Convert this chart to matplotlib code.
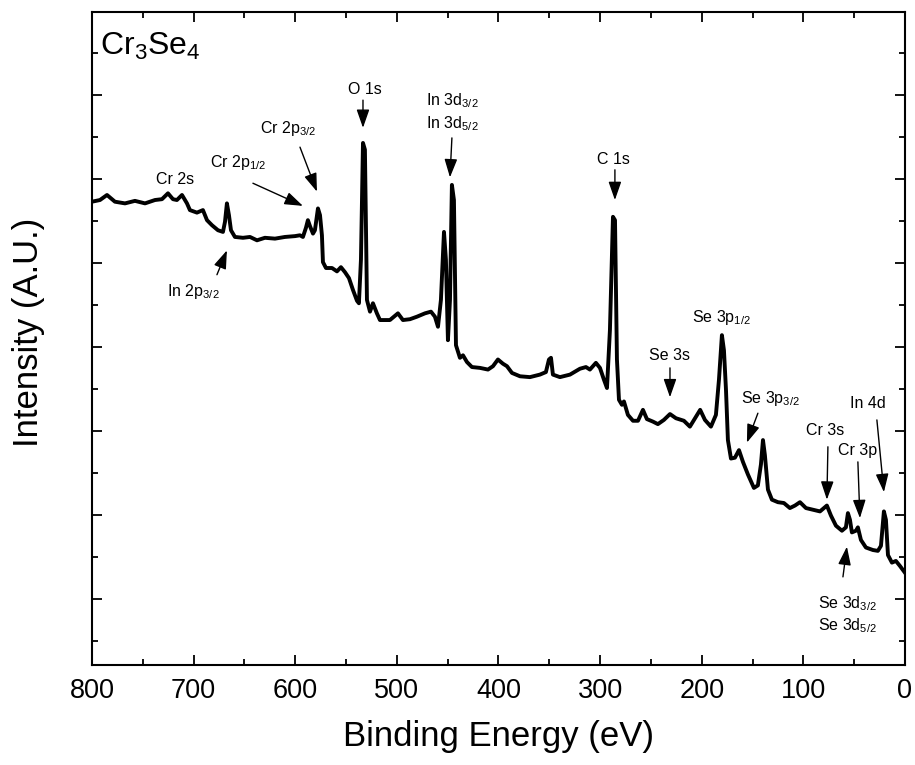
import matplotlib
matplotlib.use('Agg')
import matplotlib.pyplot as plt
from matplotlib.ticker import MultipleLocator

# XPS survey spectrum of Cr3Se4
energy = [
    800.0, 792.1, 785.2, 777.4, 767.5, 757.7, 747.8, 738.0, 731.1, 725.2,
    720.3, 716.4, 711.4, 706.5, 703.6, 696.7, 690.8, 686.8, 681.9, 676.0,
    671.1, 669.1, 667.2, 665.2, 663.2, 659.3, 651.4, 644.5, 637.6, 629.8,
    619.9, 610.1, 600.2, 595.3, 592.4, 589.4, 587.5, 585.5, 582.5, 580.6,
    577.6, 575.6, 573.7, 572.7, 569.7, 563.8, 558.9, 555.0, 551.0, 547.1,
    543.2, 539.2, 537.3, 535.3, 533.3, 531.4, 529.4, 526.4, 523.5, 519.6,
    516.6, 506.8, 498.9, 494.0, 487.1, 480.2, 472.3, 466.4, 462.5, 459.5,
    456.6, 453.6, 451.7, 449.7, 447.7, 445.8, 443.8, 441.8, 437.9, 434.9,
    431.0, 426.1, 418.2, 410.3, 405.4, 400.5, 395.6, 391.6, 386.7, 378.8,
    369.0, 359.2, 353.3, 350.3, 348.3, 346.4, 339.5, 329.6, 319.8, 313.9,
    310.0, 304.1, 300.1, 296.2, 293.2, 290.3, 287.3, 285.3, 283.4, 281.4,
    278.5, 276.5, 272.6, 267.6, 262.7, 257.8, 253.9, 248.0, 243.1, 237.2,
    231.2, 225.3, 217.5, 211.6, 206.6, 201.5, 196.8, 190.9, 186.0, 183.0,
    180.1, 178.1, 176.1, 174.2, 171.2, 167.3, 163.3, 159.4, 154.5, 148.6,
    144.7, 141.7, 139.7, 137.8, 134.8, 130.9, 125.0, 119.1, 113.2, 108.2,
    103.3, 97.4, 90.5, 83.6, 76.8, 72.8, 67.9, 62.0, 58.1, 56.1,
    54.1, 52.2, 48.2, 46.3, 43.3, 38.4, 31.5, 26.6, 23.6, 20.7,
    18.7, 16.7, 12.8, 8.9, 4.9, 0.0]

intensity = [
    47.3, 47.5, 48.1, 47.3, 47.1, 47.4, 47.1, 47.5, 47.6, 48.3,
    47.6, 47.5, 48.1, 47.1, 46.3, 46.0, 46.3, 45.1, 44.5, 43.9,
    43.7, 44.9, 47.1, 45.7, 43.9, 43.1, 43.0, 43.1, 42.7, 43.0,
    42.9, 43.1, 43.2, 43.3, 43.1, 44.2, 45.1, 44.4, 43.5, 43.9,
    46.5, 45.7, 43.3, 40.1, 39.4, 39.4, 39.0, 39.5, 38.9, 38.2,
    36.8, 35.5, 35.2, 40.4, 54.3, 53.5, 35.6, 34.2, 35.2, 34.0,
    33.2, 33.2, 34.0, 33.2, 33.3, 33.6, 34.0, 34.2, 33.6, 32.4,
    35.6, 43.7, 40.4, 30.8, 35.6, 49.3, 47.5, 30.2, 28.7, 29.0,
    28.2, 27.6, 27.5, 27.3, 27.7, 28.5, 28.0, 27.7, 26.9, 26.5,
    26.4, 26.7, 27.0, 28.5, 28.7, 26.7, 26.4, 26.7, 27.4, 27.6,
    27.3, 28.1, 27.5, 26.1, 25.1, 32.0, 45.5, 45.1, 28.5, 23.7,
    23.1, 23.5, 21.9, 21.2, 21.2, 22.5, 21.4, 21.1, 20.8, 21.3,
    22.0, 21.5, 21.2, 20.5, 21.5, 22.5, 21.3, 20.5, 21.9, 26.1,
    31.4, 29.6, 24.9, 18.9, 16.7, 16.8, 17.7, 16.3, 14.8, 13.2,
    13.5, 16.0, 18.9, 17.1, 13.0, 11.8, 11.5, 11.4, 10.8, 11.1,
    11.5, 10.8, 10.6, 10.4, 11.1, 9.9, 8.7, 8.1, 8.5, 10.2,
    9.4, 7.9, 8.1, 8.5, 7.0, 6.1, 5.8, 5.7, 6.3, 10.4,
    9.4, 5.2, 4.3, 4.5, 3.9, 3.1]

# peak labels: text, label x, label y
peak_labels = [
    ('Cr 2s', 718.3, 49.9),
    (r'Cr 2p$_{\mathregular{1/2}}$', 656.0, 52.0),
    (r'Cr 2p$_{\mathregular{3/2}}$', 607.0, 56.0),
    (r'In 2p$_{\mathregular{3/2}}$', 700.0, 36.6),
    ('O 1s', 531.4, 60.7),
    (r'In 3d$_{\mathregular{3/2}}$' + '\n' + r'In 3d$_{\mathregular{5/2}}$', 445.8, 58.0),
    ('C 1s', 287.3, 52.3),
    ('Se 3s', 231.2, 29.0),
    (r'Se 3p$_{\mathregular{1/2}}$', 181.0, 33.5),
    (r'Se 3p$_{\mathregular{3/2}}$', 132.0, 23.8),
    ('Cr 3s', 78.7, 20.1),
    ('Cr 3p', 46.3, 17.7),
    ('In 4d', 36.4, 23.3),
    (r'Se 3d$_{\mathregular{3/2}}$' + '\n' + r'Se 3d$_{\mathregular{5/2}}$', 56.1, -1.9),
]

# arrows: tail (x, y) -> head (x, y)
arrows = [
    ((641.6, 49.5), (592.4, 46.8)),
    ((595.3, 53.8), (578.6, 48.5)),
    ((677.0, 38.6), (667.2, 41.5)),
    ((533.3, 59.4), (533.3, 56.1)),
    ((445.8, 54.9), (447.7, 50.2)),
    ((285.4, 51.1), (285.4, 47.5)),
    ((231.2, 27.5), (231.2, 24.0)),
    ((144.7, 22.1), (155.5, 18.6)),
    ((75.8, 18.1), (76.8, 11.8)),
    ((46.3, 16.3), (44.3, 9.6)),
    ((27.6, 21.3), (20.7, 12.7)),
    ((61.0, 2.6), (57.1, 6.2)),
]

plt.rcParams['font.family'] = ['Liberation Sans', 'DejaVu Sans']
plt.rcParams['mathtext.fontset'] = 'custom'
plt.rcParams['mathtext.rm'] = 'Liberation Sans'
plt.rcParams['mathtext.it'] = 'Liberation Sans:italic'

fig = plt.figure(figsize=(9.15, 7.65), dpi=100)
ax = fig.add_axes([0.1005, 0.1307, 0.8885, 0.8536])

ax.plot(energy, intensity, color='black', lw=2.8, solid_joinstyle='round')

ax.set_xlim(800, 0)
ax.set_ylim(-7.9, 69.9)
ax.xaxis.set_major_locator(MultipleLocator(100))
ax.xaxis.set_minor_locator(MultipleLocator(50))
ax.yaxis.set_major_locator(MultipleLocator(10))
ax.yaxis.set_minor_locator(MultipleLocator(5))
ax.tick_params(which='both', direction='in', top=True, right=True, width=1.3)
ax.tick_params(which='major', length=7)
ax.tick_params(which='minor', length=4)
ax.tick_params(axis='x', labelsize=19.5, pad=9)
ax.tick_params(axis='y', labelleft=False)
for s in ax.spines.values():
    s.set_linewidth(1.5)

ax.set_xlabel('Binding Energy (eV)', fontsize=25, labelpad=12)
ax.set_ylabel('Intensity (A.U.)', fontsize=25)
ax.yaxis.set_label_coords(-0.058, 0.51)

ax.text(0.0098, 0.934, r'Cr$_{\mathregular{3}}$Se$_{\mathregular{4}}$', transform=ax.transAxes,
        fontsize=23, ha='left', va='baseline')

for txt, lx, ly in peak_labels:
    ax.text(lx, ly, txt, fontsize=11.5, ha='center', va='center', linespacing=1.3)

for tail, head in arrows:
    ax.annotate('', xy=head, xytext=tail,
                arrowprops=dict(arrowstyle='-|>,head_length=0.8,head_width=0.28',
                                color='black', lw=1, mutation_scale=14,
                                shrinkA=0, shrinkB=0))

fig.savefig('out.png', dpi=100)
